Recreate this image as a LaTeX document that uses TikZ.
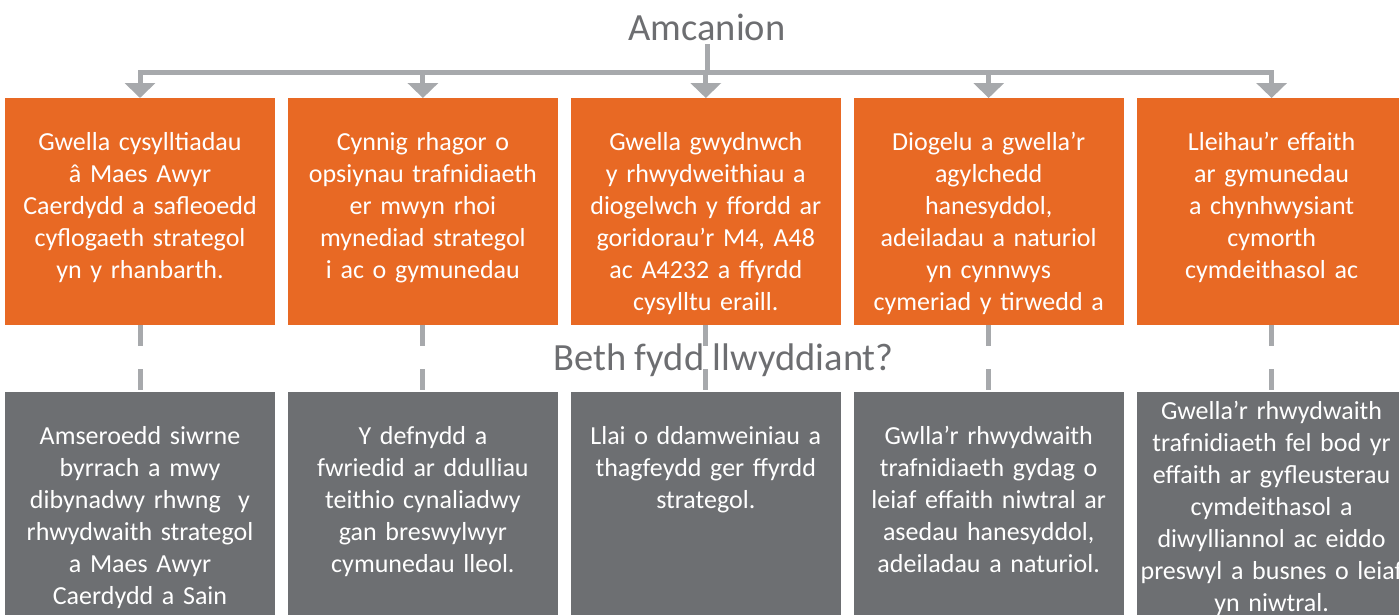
\documentclass[tikz,border=0pt]{standalone}
\usepackage{fontspec}
\setmainfont{Carlito}
\usetikzlibrary{positioning, arrows.meta}
\definecolor{amorange}{HTML}{E86924}
\definecolor{amgrey}{HTML}{6D6F72}
\definecolor{amline}{HTML}{A7A9AC}
\definecolor{amhead}{HTML}{6D6E71}

\begin{document}
\begin{tikzpicture}[x=1pt, y=-1pt,
obox/.style={fill=amorange, minimum width=270pt, minimum height=227pt, inner sep=0pt, anchor=north},
gbox/.style={fill=amgrey, minimum width=270pt, minimum height=240pt, inner sep=0pt, anchor=north},
btext/.style={text=white, font=\fontsize{26}{32}\selectfont, align=center, text width=290pt, inner sep=0pt, anchor=north},
heading/.style={text=amhead, font=\fontsize{38.5}{40}\selectfont, inner sep=4pt, anchor=base},
conn/.style={draw=amline, line width=5pt},
arr/.style={conn, -{Triangle[width=30pt, length=15pt]}},
dashline/.style={conn, dash pattern=on 21pt off 23pt}]
\useasboundingbox (0,0) rectangle (1399,614);
\clip (0,0) rectangle (1399,614);
% objectives
\node[obox] (o1) at (140,98) {};
\node[obox, right=12.5pt of o1] (o2) {};
\node[obox, right=12.5pt of o2] (o3) {};
\node[obox, right=12.5pt of o3] (o4) {};
\node[obox, right=12.5pt of o4] (o5) {};
% outcomes
\node[gbox] (g1) at (140,392) {};
\node[gbox, right=12.5pt of g1] (g2) {};
\node[gbox, right=12.5pt of g2] (g3) {};
\node[gbox, right=12.5pt of g3] (g4) {};
\node[gbox, right=12.5pt of g4] (g5) {};
% headings
\node[heading] (amc) at (707,40) {Amcanion};
\node[heading] (beth) at (723.5,370) {Beth fydd llwyddiant?};
\coordinate (jn) at (707,72);
% connectors
\draw[conn] (amc) -- (jn);
\draw[conn, line cap=rect] (o1.north |- jn) -- (o5.north |- jn);
\foreach \i in {1,...,5}{
	\draw[arr] (o\i.north |- jn) -- (o\i.north);
	\draw[dashline] (o\i.south) -- (g\i.north);
}
% texts
\node[btext, yshift=-34pt] (t1) at (o1.north) {Gwella cysylltiadau\\ â Maes Awyr\\ Caerdydd a safleoedd\\ cyflogaeth strategol\\ yn y rhanbarth.};
\node[btext, yshift=-34pt] (t2) at (o2.north) {Cynnig rhagor o\\ opsiynau trafnidiaeth\\ er mwyn rhoi\\ mynediad strategol\\ i ac o gymunedau};
\node[btext, yshift=-34pt] (t3) at (o3.north) {Gwella gwydnwch\\ y rhwydweithiau a\\ diogelwch y ffordd ar\\ goridorau’r M4, A48\\ ac A4232 a ffyrdd\\ cysylltu eraill.};
\node[btext, yshift=-34pt] (t4) at (o4.north) {Diogelu a gwella’r\\ agylchedd\\ hanesyddol,\\ adeiladau a naturiol\\ yn cynnwys\\ cymeriad y tirwedd a};
\node[btext, yshift=-34pt] (t5) at (o5.north) {Lleihau’r effaith\\ ar gymunedau\\ a chynhwysiant\\ cymorth\\ cymdeithasol ac};
\node[btext, yshift=-34pt] (s1) at (g1.north) {Amseroedd siwrne\\ byrrach a mwy\\ dibynadwy rhwng\ \ y\\ rhwydwaith strategol\\ a Maes Awyr\\ Caerdydd a Sain};
\node[btext, yshift=-34pt] (s2) at (g2.north) {Y defnydd a\\ fwriedid ar ddulliau\\ teithio cynaliadwy\\ gan breswylwyr\\ cymunedau lleol.};
\node[btext, yshift=-34pt] (s3) at (g3.north) {Llai o ddamweiniau a\\ thagfeydd ger ffyrdd\\ strategol.};
\node[btext, yshift=-34pt] (s4) at (g4.north) {Gwlla’r rhwydwaith\\ trafnidiaeth gydag o\\ leiaf effaith niwtral ar\\ asedau hanesyddol,\\ adeiladau a naturiol.};
\node[btext, yshift=-9pt] (s5) at (g5.north) {Gwella’r rhwydwaith\\ trafnidiaeth fel bod yr\\ effaith ar gyfleusterau\\ cymdeithasol a\\ diwylliannol ac eiddo\\ preswyl a busnes o leiaf\\ yn niwtral.};
\end{tikzpicture}
\end{document}
